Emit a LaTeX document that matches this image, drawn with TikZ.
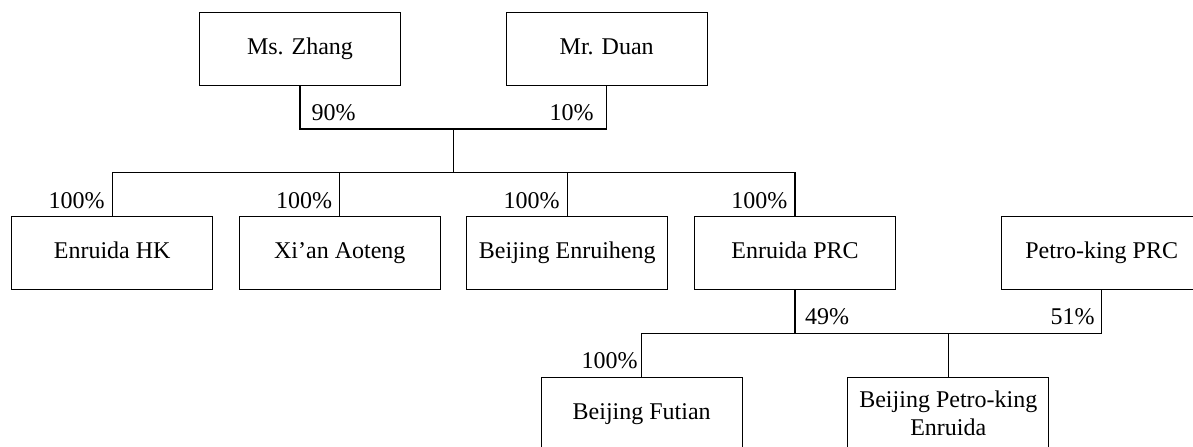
\documentclass[tikz,border=0pt]{standalone}
\usepackage{fontspec}
\setmainfont{Liberation Serif}
\newcommand{\tstrut}{\rule[-2.7pt]{0pt}{10.6pt}}
\newcommand{\tallstrut}{\rule[-2.7pt]{0pt}{12.6pt}}
\begin{document}
\begin{tikzpicture}[x=0.5pt,y=-0.5pt,
  every node/.style={font=\fontsize{12}{14.15}\selectfont},
  entity/.style={draw, line width=0.55pt, minimum width=100.5pt, minimum height=36.5pt, inner sep=0pt, align=center},
  pct/.style={inner sep=0pt},
  link/.style={line width=0.55pt}]
\useasboundingbox (0,0) rectangle (1193,446);
% owners
\node[entity] (zhang) at (300,49.2) {Ms. Zhang\tstrut};
\node[entity] (duan) at (606.7,49.2) {Mr. Duan\tstrut};
% second row
\node[entity] (hk) at (112.2,253) {Enruida HK\tstrut};
\node[entity] (xian) at (339.8,253) {Xi'an Aoteng\tstrut};
\node[entity] (enr) at (567.3,253) {Beijing Enruiheng\tstrut};
\node[entity] (prc) at (795,253) {Enruida PRC\tstrut};
\node[entity] (pk) at (1101.7,253) {Petro-king PRC\tstrut};
% third row
\node[entity] (futian) at (641.7,414.2) {Beijing Futian\tstrut};
\node[entity] (bpe) at (948.3,414.2) {Beijing Petro-king\tallstrut\\Enruida\tstrut};
% junctions
\coordinate (j1) at (453.3,129);
\coordinate (b) at (453.3,172.7);
\coordinate (j2) at (948.3,333.3);
% connectors
\draw[link] (zhang.south) |- (j1) -| (duan.south);
\draw[link] (j1) -- (b);
\draw[link] (hk.north) |- (b) -| (prc.north);
\draw[link] (xian.north) -- (xian.north |- b);
\draw[link] (enr.north) -- (enr.north |- b);
\draw[link] (prc.south) |- (j2) -| (pk.south);
\draw[link] (futian.north) |- (j2);
\draw[link] (j2) -- (bpe.north);
% percentages
\node[pct, anchor=base west] (p90) at ([xshift=5.6pt, yshift=4.1pt]zhang.south |- j1) {90\%};
\node[pct, anchor=base east] (p10) at ([xshift=-6.4pt, yshift=4.1pt]duan.south |- j1) {10\%};
\node[pct, anchor=base east] (p1) at ([xshift=-3.6pt, yshift=3.6pt]hk.north) {100\%};
\node[pct, anchor=base east] (p2) at ([xshift=-3.6pt, yshift=3.6pt]xian.north) {100\%};
\node[pct, anchor=base east] (p3) at ([xshift=-3.6pt, yshift=3.6pt]enr.north) {100\%};
\node[pct, anchor=base east] (p4) at ([xshift=-3.6pt, yshift=3.6pt]prc.north) {100\%};
\node[pct, anchor=base west] (p49) at ([xshift=4.8pt, yshift=4.4pt]prc.south |- j2) {49\%};
\node[pct, anchor=base east] (p51) at ([xshift=-3.4pt, yshift=4.4pt]pk.south |- j2) {51\%};
\node[pct, anchor=base east] (p5) at ([xshift=-1.8pt, yshift=4.1pt]futian.north) {100\%};
\end{tikzpicture}
\end{document}
